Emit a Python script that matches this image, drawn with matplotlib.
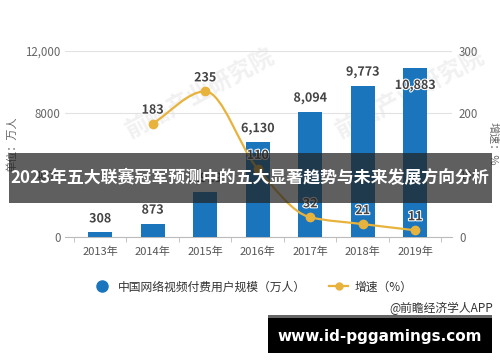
import numpy as np
import matplotlib
matplotlib.use("Agg")
import matplotlib.pyplot as plt
from matplotlib.path import Path
from matplotlib.patches import PathPatch, Rectangle
from matplotlib.lines import Line2D
import matplotlib.patheffects as pe

plt.rcParams['font.family'] = ['Noto Sans CJK SC', 'DejaVu Sans']

# data
years = ['2013年', '2014年', '2015年', '2016年', '2017年', '2018年', '2019年']
users = [308, 873, 2919, 6130, 8094, 9773, 10883]
user_labels = ['308', '873', '2,919', '6,130', '8,094', '9,773', '10,883']
growth_years = [1, 2, 3, 4, 5, 6]          # index into years (2014-2019)
growth = [183, 235, 110, 32, 21, 11]

left_ticks = [0, 4000, 8000, 12000]
left_tick_labels = ['0', '4000', '8000', '12,000']
right_ticks = [0, 100, 200, 300]

title = '2023年五大联赛冠军预测中的五大显著趋势与未来发展方向分析'
site = 'www.id-pggamings.com'

blue = '#1a75bc'
gold = '#e8b33c'
txt = '#444444'

fig = plt.figure(figsize=(5, 3.62), dpi=100)
ax = fig.add_axes([0.13, 0.345, 0.774, 0.514])
ax2 = ax.twinx()

x = np.arange(len(years))

# faint watermarks
for wx, wy in [(0.40, 0.74), (0.82, 0.74)]:
    fig.text(wx, wy, '前瞻产业研究院', fontsize=17, color='#f1f1f1', rotation=28,
             ha='center', va='center', zorder=0, fontweight='bold')

ax.set_zorder(1)
ax2.set_zorder(2)
ax.patch.set_visible(False)
ax2.patch.set_visible(False)

ax.bar(x, users, width=0.46, color=blue, zorder=3)
ax.set_xlim(-0.67, 6.7)
ax.set_ylim(0, 12000)
ax.set_yticks(left_ticks)
ax.set_yticklabels(left_tick_labels)
ax.set_xticks(x)
ax.set_xticklabels(years)
ax.set_xticks(np.arange(len(years) + 1) - 0.5, minor=True)
ax.tick_params(axis='x', which='major', length=0, pad=7, labelsize=8, labelcolor='#555555')
ax.tick_params(axis='x', which='minor', length=3.5, color='#bbbbbb')
ax.tick_params(axis='y', length=0, pad=3, labelsize=8.3, labelcolor='#666666')
ax.grid(axis='y', color='#e2e2e2', linewidth=0.8, zorder=0)
for s in ['top', 'left', 'right']:
    ax.spines[s].set_visible(False)
ax.spines['bottom'].set_color('#bbbbbb')

offsets = [5, 5, 5, 5, 5, 5, -17]
for xi, v, lab, off in zip(x, users, user_labels, offsets):
    ax.annotate(lab, (xi, v), xytext=(0, off), textcoords='offset points',
                ha='center', va='bottom', fontsize=9, fontweight='bold', color=txt,
                zorder=5, path_effects=[pe.withStroke(linewidth=1.5, foreground='white')])

ax.text(-0.137, 0.5, '单位：万人', transform=ax.transAxes, rotation=90,
        ha='center', va='center', fontsize=8, color='#666666')

# growth line, smooth (monotone cubic via bezier segments)
gx = np.array(growth_years, dtype=float)
gy = np.array(growth, dtype=float)
d = np.diff(gy) / np.diff(gx)
m = np.zeros_like(gy)
m[0], m[-1] = d[0], d[-1]
for k in range(1, len(gy) - 1):
    if d[k - 1] * d[k] > 0:
        m[k] = 2.0 / (1.0 / d[k - 1] + 1.0 / d[k])
verts = [(gx[0], gy[0])]
codes = [Path.MOVETO]
for k in range(len(gx) - 1):
    h = gx[k + 1] - gx[k]
    verts += [(gx[k] + h / 3, gy[k] + m[k] * h / 3),
              (gx[k + 1] - h / 3, gy[k + 1] - m[k + 1] * h / 3),
              (gx[k + 1], gy[k + 1])]
    codes += [Path.CURVE4] * 3
ax2.add_patch(PathPatch(Path(verts, codes), facecolor='none', edgecolor=gold,
                        linewidth=1.6, zorder=4))
ax2.plot(gx, gy, 'o', color=gold, markersize=6, zorder=5)
for xi, v in zip(gx, gy):
    ax2.annotate(str(int(v)), (xi, v), xytext=(0, 5), textcoords='offset points',
                 ha='center', va='bottom', fontsize=9, fontweight='bold', color=txt,
                 zorder=6, path_effects=[pe.withStroke(linewidth=1.5, foreground='white')])

ax2.set_ylim(0, 300)
ax2.set_yticks(right_ticks)
ax2.tick_params(axis='y', length=0, pad=5, labelsize=8.3, labelcolor='#666666')
for s in ['top', 'left', 'right', 'bottom']:
    ax2.spines[s].set_visible(False)
ax2.text(1.105, 0.5, '增速：%', transform=ax2.transAxes, rotation=-90,
         ha='center', va='center', fontsize=8, color='#666666')

# legend
handles = [Line2D([], [], marker='o', linestyle='none', color=blue, markersize=8),
           Line2D([], [], marker='o', color=gold, markersize=5, linewidth=1.6)]
fig.legend(handles, ['中国网络视频付费用户规模（万人）', '增速（%）'], loc='center',
           bbox_to_anchor=(0.505, 1 - 287 / 362), ncol=2, frameon=False, fontsize=8.5,
           handlelength=1.6, handletextpad=0.5, columnspacing=2.0, labelcolor='#333333')

fig.text(0.986, 1 - 308 / 362, '@前瞻经济学人APP', ha='right', va='center',
         fontsize=8.5, color='#333333')

# overlays: title banner and site box
fig.patches.append(Rectangle((9 / 500, 1 - 203 / 362), 483 / 500, 50 / 362,
                             transform=fig.transFigure, facecolor='#222222', alpha=0.72,
                             edgecolor='none', zorder=10))
fig.text(0.5, 1 - 178 / 362, title, ha='center', va='center', fontsize=12.2,
         fontweight='bold', color='white', zorder=11)

fig.patches.append(Rectangle((268 / 500, 1 - 353 / 362), 224 / 500, 38 / 362,
                             transform=fig.transFigure, facecolor='black',
                             edgecolor='none', zorder=10))
fig.patches.append(Rectangle((268 / 500, 1 - 318 / 362), 224 / 500, 3 / 362,
                             transform=fig.transFigure, facecolor='#666666',
                             edgecolor='none', zorder=10))
fig.text(380 / 500, 1 - 336 / 362, site, ha='center', va='center', fontsize=11,
         fontweight='bold', color='white', family='DejaVu Sans', zorder=11)

fig.savefig('out.png', dpi=100, facecolor='white')
